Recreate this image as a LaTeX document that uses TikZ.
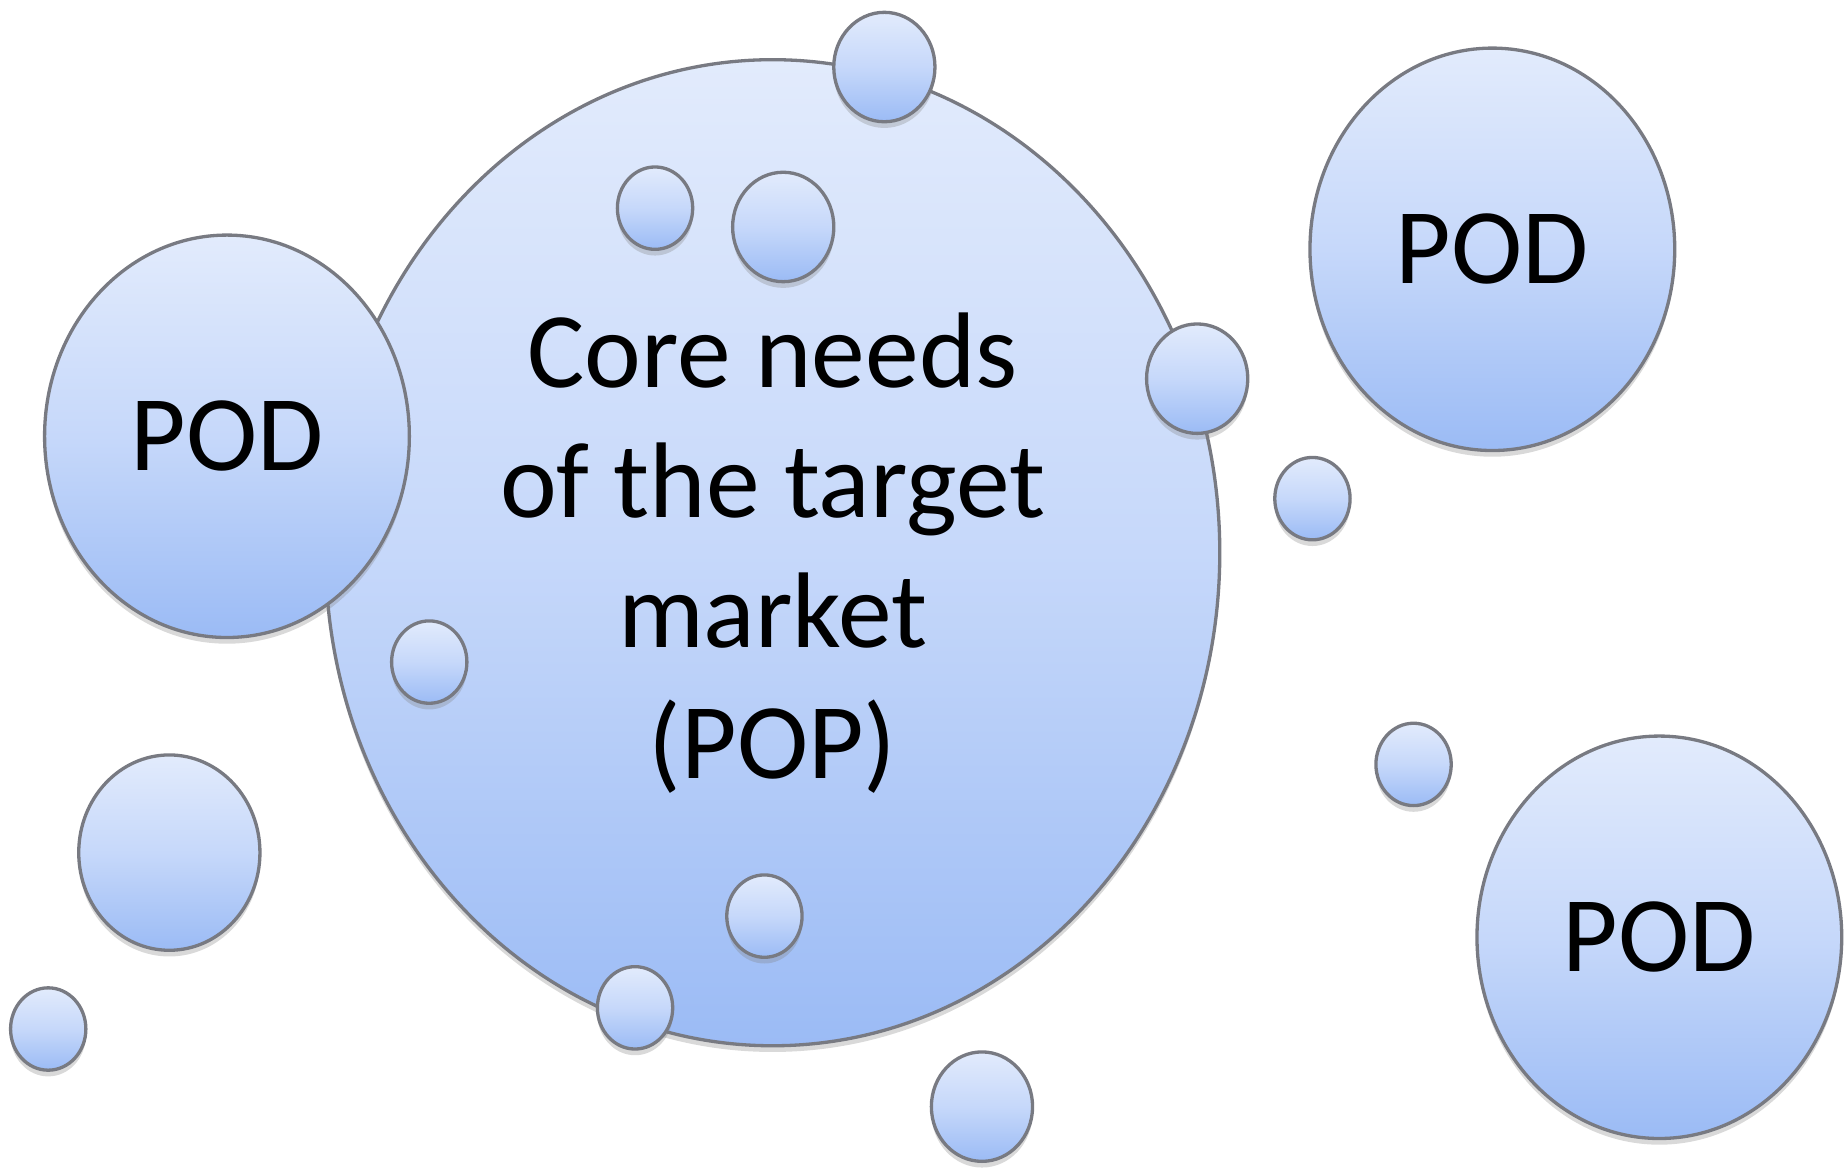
\documentclass[tikz,border=0pt]{standalone}
\usepackage{fontspec}
\setmainfont{Carlito}
\usetikzlibrary{shapes.geometric,shadows}
\definecolor{bubbletop}{RGB}{226,235,252}
\definecolor{bubblemid}{RGB}{198,216,250}
\definecolor{bubblebottom}{RGB}{155,187,245}
\definecolor{bubbleline}{RGB}{120,122,130}

\begin{document}
\begin{tikzpicture}[x=0.01cm, y=-0.01cm,
    bubble/.style={ellipse, draw=bubbleline, line width=0.8pt,
        top color=bubbletop, bottom color=bubblebottom, middle color=bubblemid,
        inner sep=0pt, align=center, font=\fontsize{26}{31.5}\selectfont,
        drop shadow={shadow xshift=0pt, shadow yshift=-1.5pt, opacity=0.3}},
    dotsmall/.style={bubble, minimum width=0.64cm, minimum height=0.70cm},
    dotmid/.style={bubble, minimum width=0.86cm, minimum height=0.93cm},
    podbubble/.style={bubble, minimum width=3.10cm, minimum height=3.42cm}]
    \useasboundingbox (0, 0) rectangle (1568, 994);
    % Core
    \node[bubble, minimum width=7.60cm, minimum height=8.38cm] (core) at (657, 470)
        {Core needs\\of the target\\market\\(POP)};
    \node[dotsmall] (coreA) at (557, 177) {};
    \node[dotmid] (coreB) at (666, 193) {};
    \node[dotsmall] (coreC) at (365, 563) {};
    \node[dotsmall] (coreD) at (650, 779) {};
    % Rim
    \node[dotmid] (rimtop) at (752, 57) {};
    \node[dotmid] (rimright) at (1018, 322) {};
    \node[dotsmall] (rimbottom) at (540, 857) {};
    % POD
    \node[podbubble] (podleft) at (193, 371) {POD};
    \node[podbubble] (podtop) at (1269, 212) {POD};
    \node[podbubble] (podbottom) at (1411, 797) {POD};
    % Outside
    \node[bubble, minimum width=1.54cm, minimum height=1.66cm] (outleft) at (144, 725) {};
    \node[dotsmall] (outcorner) at (41, 875) {};
    \node[dotsmall] (outright) at (1116, 424) {};
    \node[dotsmall] (outlow) at (1202, 650) {};
    \node[dotmid] (outbottom) at (835, 941) {};
\end{tikzpicture}
\end{document}
